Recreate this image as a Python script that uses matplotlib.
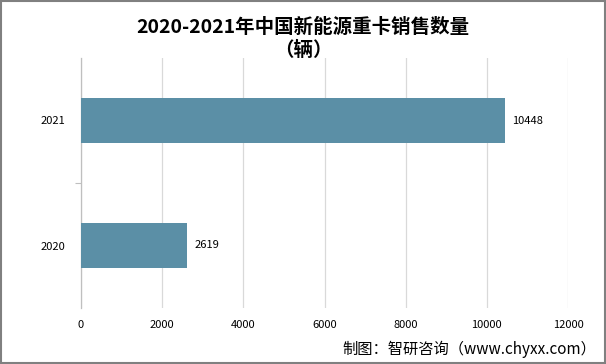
import matplotlib
matplotlib.use("Agg")
import matplotlib.pyplot as plt
from matplotlib.patches import Rectangle

plt.rcParams['font.family'] = ['Noto Sans CJK SC', 'DejaVu Sans']

years = ["2020", "2021"]
sales = [2619, 10448]
xticks = [0, 2000, 4000, 6000, 8000, 10000, 12000]
title_line1 = "2020-2021年中国新能源重卡销售数量"
title_line2 = "（辆）"
source = "制图：智研咨询（www.chyxx.com）"

fig = plt.figure(figsize=(6.06, 3.64), dpi=100)
ax = fig.add_axes([81/606, 1-308/364, (568-81)/606, (308-58)/364])

ypos = list(range(len(years)))
ax.barh(ypos, sales, height=0.36, color="#5B8FA6", zorder=3)
for y, v in zip(ypos, sales):
    ax.text(v + 180, y, str(v), va="center", ha="left", fontsize=8, color="#000000")

ax.set_xlim(0, 12000)
ax.set_ylim(-0.5, 1.5)
ax.set_xticks(xticks)
ax.set_xticklabels([str(t) for t in xticks], fontsize=8)
ax.set_yticks(ypos)
ax.set_yticklabels(years, fontsize=8)
ax.set_yticks([0.5], minor=True)
ax.tick_params(axis='y', which='minor', length=4, color="#BFBFBF", width=0.8)
ax.tick_params(axis='y', which='major', length=0, pad=11)
ax.tick_params(axis='x', length=0, pad=9)
ax.grid(axis='x', color="#D9D9D9", linewidth=0.9, zorder=0)
for s in ["top", "right", "bottom"]:
    ax.spines[s].set_visible(False)
ax.spines["left"].set_color("#BFBFBF")
ax.spines["left"].set_linewidth(0.9)

fig.text(0.5, 1-27/364, title_line1, ha="center", va="center", fontsize=14,
         fontweight="bold")
fig.text(0.5, 1-50/364, title_line2, ha="center", va="center", fontsize=14,
         fontweight="bold")
fig.text(596/606, 1-349/364, source, ha="right", va="center", fontsize=11)

fig.patches.append(Rectangle((0.001, 0.002), 0.997, 0.995, transform=fig.transFigure,
                             fill=False, edgecolor="#808080", linewidth=1.5))

fig.savefig("out.png", dpi=100)
